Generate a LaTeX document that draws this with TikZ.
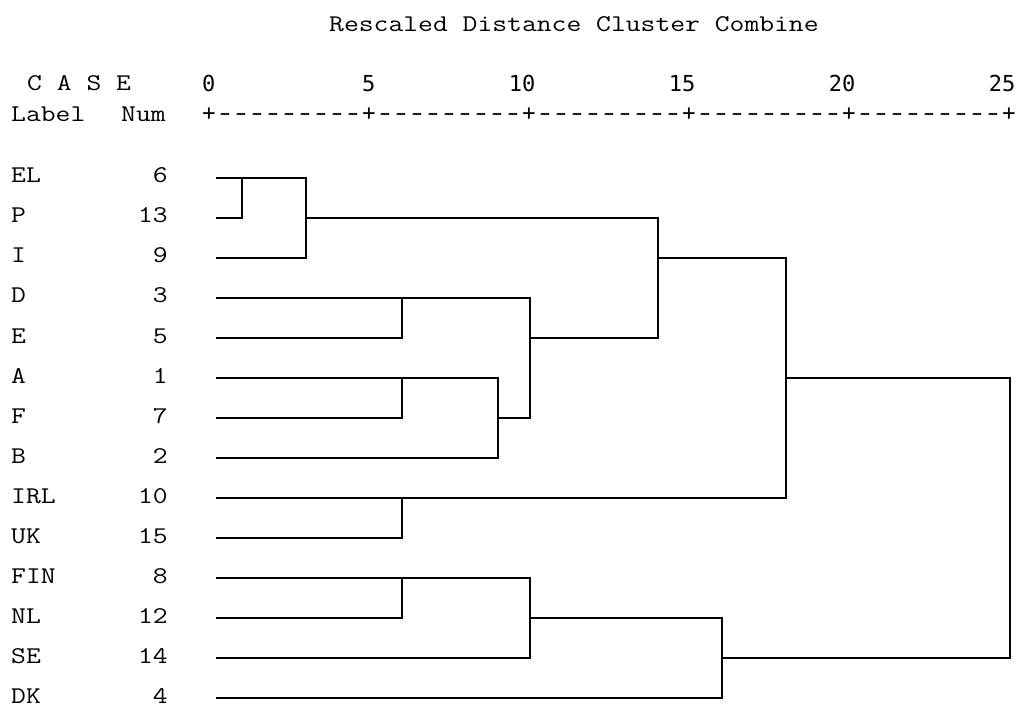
\documentclass[tikz,border=0pt]{standalone}
\usepackage{fontspec}
\newfontfamily\courfont[FakeStretch=1.2]{Latin Modern Mono}
\newfontfamily\axisfont{DejaVu Sans Mono}
\begin{document}
\begin{tikzpicture}[x=1pt,y=-1pt,
  lbl/.style={font=\courfont\fontsize{24}{24}\selectfont,inner sep=0pt,text depth=0pt,anchor=base west},
  num/.style={font=\courfont\fontsize{24}{24}\selectfont,inner sep=0pt,text depth=0pt,anchor=base east},
  axnum/.style={font=\axisfont\fontsize{22}{22}\selectfont,inner sep=0pt,anchor=base east},
  rul/.style={font=\axisfont\fontsize{22}{22}\selectfont,inner sep=0pt,anchor=base},
  tree/.style={line width=1.7pt,line cap=rect,line join=miter}]
\path[use as bounding box,fill=white] (0,0) rectangle (1022,708);
% header texts
\node[lbl] (title) at (329,32) {Rescaled Distance Cluster Combine};
\node[lbl] (case) at (27,91) {C A S E};
\node[lbl] (label) at (11,122) {Label};
\node[lbl] (numh) at (121,122) {Num};
% axis numbers
\foreach \v/\t in {0/209,5/369,10/529,15/689,20/849,25/1009}
  \node[axnum] (ax\v) at (\t+6.6,92) {\v};
% ruler
\foreach \j in {0,...,50}{
  \pgfmathtruncatemacro{\m}{mod(\j,10)}
  \ifnum\m=0
    \node[rul] (r\j) at (209+16*\j,121) {+};
  \else
    \node[rul] (r\j) at (209+16*\j,121) {\scalebox{1.5}[1]{-}};
  \fi
}
% case labels and numbers
\foreach \n/\c/\i in {EL/6/1,P/13/2,I/9/3,D/3/4,E/5/5,A/1/6,F/7/7,B/2/8,IRL/10/9,UK/15/10,FIN/8/11,NL/12/12,SE/14/13,DK/4/14}{
  \node[lbl] (name\i) at (11,178+40*\i-40+5) {\n};
  \node[num] (num\i) at (168,178+40*\i-40+5) {\c};
  \coordinate (leaf\i) at (217,178+40*\i-40);
}
% join coordinates
\coordinate (jEP) at (242,178);
\coordinate (jEPI) at (306,178);
\coordinate (jDE) at (402,298);
\coordinate (jAF) at (402,378);
\coordinate (jAFB) at (498,378);
\coordinate (jDEAFB) at (530,298);
\coordinate (jtop) at (658,218);
\coordinate (jbig) at (786,258);
\coordinate (jIU) at (402,498);
\coordinate (jFN) at (402,578);
\coordinate (jFNS) at (530,578);
\coordinate (jFNSD) at (722,618);
\coordinate (jroot) at (1010,378);
% tree
\draw[tree] (leaf1) -- (leaf1 -| jEPI) -- (leaf3 -| jEPI) -- (leaf3);
\draw[tree] (leaf2) -- (leaf2 -| jEP) -- (jEP);
\draw[tree] (leaf2 -| jEPI) -- (jtop) -- (leaf5 -| jtop) -- (leaf5 -| jDEAFB);
\draw[tree] (leaf4) -- (jDEAFB) -- (leaf7 -| jDEAFB) -- (leaf7 -| jAFB);
\draw[tree] (leaf5) -- (leaf5 -| jDE) -- (jDE);
\draw[tree] (leaf6) -- (jAFB) -- (leaf8 -| jAFB) -- (leaf8);
\draw[tree] (leaf7) -- (leaf7 -| jAF) -- (jAF);
\draw[tree] (leaf3 -| jtop) -- (jbig) -- (leaf9 -| jbig) -- (leaf9);
\draw[tree] (leaf10) -- (leaf10 -| jIU) -- (jIU);
\draw[tree] (leaf6 -| jbig) -- (jroot) -- (leaf13 -| jroot) -- (leaf13 -| jFNSD);
\draw[tree] (leaf11) -- (jFNS) -- (leaf13 -| jFNS) -- (leaf13);
\draw[tree] (leaf12) -- (leaf12 -| jFN) -- (jFN);
\draw[tree] (leaf12 -| jFNS) -- (jFNSD) -- (leaf14 -| jFNSD) -- (leaf14);
\end{tikzpicture}
\end{document}
